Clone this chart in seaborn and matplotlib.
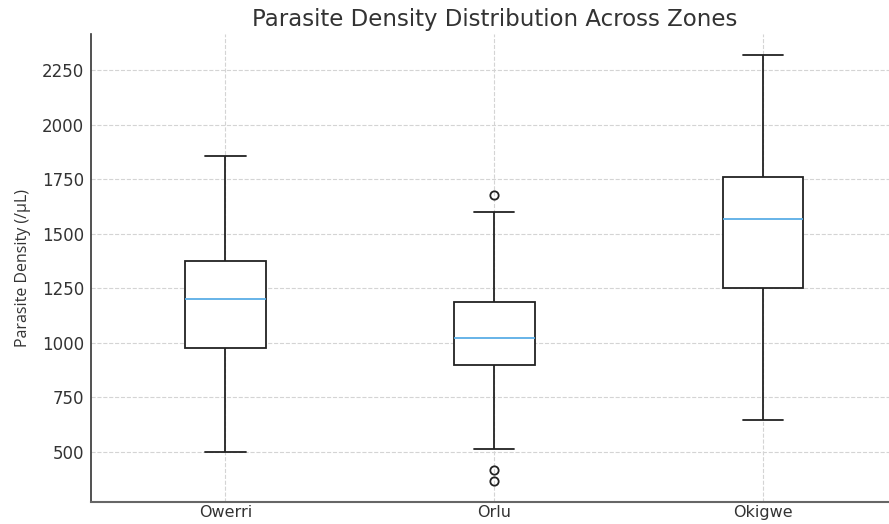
import matplotlib
matplotlib.use("Agg")
import matplotlib.pyplot as plt
import seaborn as sns
import pandas as pd

# ---- data (box-plot summary statistics) ----
zones = ["Owerri", "Orlu", "Okigwe"]
whisker_low = [500, 514, 647]
q1 = [976, 900, 1252]
median = [1200, 1021, 1566]
q3 = [1374, 1186, 1758]
whisker_high = [1855, 1601, 2318]
outliers_low = [[], [417, 368], []]
outliers_high = [[], [1679], []]
y_ticks = [500, 750, 1000, 1250, 1500, 1750, 2000, 2250]


def sample_for(i):
    """Build a value list whose quartiles/whiskers equal the read statistics."""
    lo = sorted(outliers_low[i]) + [whisker_low[i]]
    hi = [whisker_high[i]] + sorted(outliers_high[i])
    k = max(len(lo), len(hi))
    lo = lo + [whisker_low[i]] * (k - len(lo))
    hi = [whisker_high[i]] * (k - len(hi)) + hi
    vals = (lo + [q1[i]] * k + [median[i]] + [q3[i]] * k + hi)
    return vals


rows = []
for i, z in enumerate(zones):
    for v in sample_for(i):
        rows.append({"Zone": z, "Density": v})
df = pd.DataFrame(rows)

sns.set_style("white")
plt.rcParams["font.family"] = ["DejaVu Sans"]

fig = plt.figure(figsize=(8.89, 5.24), dpi=100)
ax = fig.add_axes([0.1024, 0.042, 0.907, 0.893])

sns.boxplot(
    data=df, x="Zone", y="Density", order=zones, ax=ax,
    width=0.3, color="white", linecolor="#222222", linewidth=1.3,
    whis=1.5,
    medianprops={"color": "#5aaee6", "linewidth": 1.3},
    flierprops={"marker": "o", "markerfacecolor": "none",
                "markeredgecolor": "#222222", "markersize": 6,
                "markeredgewidth": 1.3},
)

ax.set_xlim(-0.5, 2.5)
ax.set_yticks(y_ticks)
ax.set_yticklabels([str(t) for t in y_ticks])
ax.grid(True, axis="both", linestyle="--", color="#d4d4d4", linewidth=0.8)
ax.set_axisbelow(True)

for s in ["top", "right"]:
    ax.spines[s].set_visible(False)
ax.spines["left"].set_color("#333333")
ax.spines["left"].set_linewidth(1.2)
ax.spines["bottom"].set_color("#666666")
ax.spines["bottom"].set_linewidth(1.5)

ax.tick_params(axis="both", direction="in", length=4, width=1,
               color="#777777", labelcolor="#333333")
ax.tick_params(axis="y", labelsize=12, pad=5)
ax.tick_params(axis="x", labelsize=11.5, pad=2)

ax.set_xlabel("")
ax.set_ylabel("Parasite Density (/µL)", fontsize=11.5, color="#333333",
              family=["Open Sans", "DejaVu Sans"], labelpad=8)
ax.set_title("Parasite Density Distribution Across Zones", fontsize=16.5,
             color="#333333", pad=6)

fig.savefig("out.png", dpi=100)
